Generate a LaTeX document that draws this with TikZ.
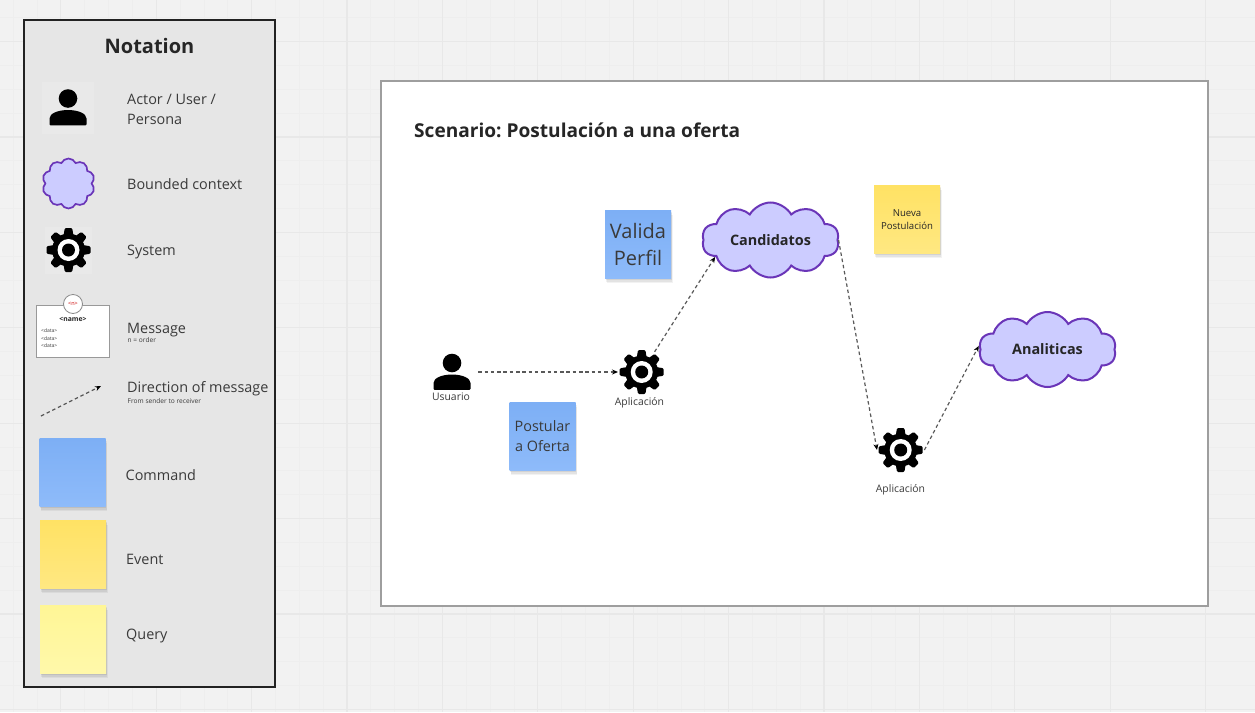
\documentclass[tikz,border=0pt]{standalone}
\usepackage{fontspec}
\setmainfont{Open Sans}
\frenchspacing
\usetikzlibrary{shapes.symbols,shadows,arrows.meta}
\definecolor{gridbg}{HTML}{F2F2F2}
\definecolor{gridminor}{HTML}{EEEEEE}
\definecolor{gridmajor}{HTML}{E8E8E8}
\definecolor{inktext}{HTML}{3A3A3A}
\definecolor{cloudfill}{HTML}{CCCCFF}
\definecolor{cloudline}{HTML}{6A35B8}
\tikzset{
  x=1pt,y=-1pt,
  label/.style={anchor=mid west,inner sep=0pt,text=inktext,font=\fontsize{14.4}{17}\selectfont},
  sublabel/.style={anchor=mid west,inner sep=0pt,text=inktext,font=\fontsize{6.6}{8}\selectfont},
  iconname/.style={inner sep=0pt,yshift=-1pt,text=inktext,font=\fontsize{10.4}{12}\selectfont},
  sticky/.style={minimum width=66pt,minimum height=68.5pt,inner sep=0pt,align=center,text=inktext,
    general shadow={shadow xshift=1.5pt,shadow yshift=-4.5pt,opacity=.05,fill=black},
    general shadow={shadow xshift=1pt,shadow yshift=-3pt,opacity=.06,fill=black},
    general shadow={shadow xshift=.5pt,shadow yshift=-1.5pt,opacity=.07,fill=black}},
  command/.style={sticky,top color={rgb,255:red,125;green,175;blue,245},bottom color={rgb,255:red,142;green,187;blue,250}},
  event/.style={sticky,top color={rgb,255:red,255;green,226;blue,100},bottom color={rgb,255:red,255;green,232;blue,130}},
  query/.style={sticky,top color={rgb,255:red,255;green,246;blue,150},bottom color={rgb,255:red,255;green,248;blue,170}},
  context/.style={shape=cloud,cloud puffs=10,cloud puff arc=120,cloud ignores aspect,draw=cloudline,line width=2pt,fill=cloudfill,
    inner sep=0pt,minimum width=137pt,minimum height=75pt,text=black!85,font=\bfseries\fontsize{14.4}{17}\selectfont},
  iconbg/.style={inner sep=0pt,minimum size=#1,fill=white,fill opacity=.15},
  flow/.style={draw=black!65,line width=1.2pt,dash pattern=on 3.5pt off 2.8pt,-{Stealth[length=6pt,width=5pt,black]}},
  gearicon/.pic={
    \foreach \a in {0,45,...,315}{
      \fill[black,rotate=\a,rounded corners=1.2pt] (-5.2,-13) -- (-3.7,-22) -- (3.7,-22) -- (5.2,-13) -- cycle;
    }
    \fill[black] (0,0) circle[radius=16.5];
    \fill[white] (0,0) circle[radius=11];
    \fill[black] (0,0) circle[radius=6.5];
  },
  personicon/.pic={
    \fill[black] (0,-9) circle[radius=9.3];
    \fill[black,rounded corners=1pt] (-18.5,17.8) -- (-18.5,12) .. controls (-18.5,6) and (-10,2.6) .. (0,2.6)
      .. controls (10,2.6) and (18.5,6) .. (18.5,12) -- (18.5,17.8) -- cycle;
  },
}
\begin{document}
\begin{tikzpicture}
\useasboundingbox (0,0) rectangle (1255,712);
\fill[gridbg] (0,0) rectangle (1255,712);
\foreach \k in {-11,...,41}{
  \draw[gridminor,line width=.8pt] ({60.8-23.85+23.85*\k},0) -- ++(0,712);
}
\foreach \k in {-1,...,30}{
  \draw[gridminor,line width=.8pt] (0,{41.5-23.85+23.85*\k}) -- ++(1255,0);
}
\foreach \k in {0,...,12}{
  \draw[gridmajor,line width=1.2pt] ({60.8+95.4*\k},0) -- ++(0,712);
}
\foreach \k in {0,...,7}{
  \draw[gridmajor,line width=1.2pt] (0,{41.5+95.4*\k}) -- ++(1255,0);
}

% Notation panel
\node[draw={rgb,255:red,34;green,34;blue,34},line width=2pt,fill={rgb,255:red,230;green,230;blue,230},minimum width=251pt,minimum height=667pt,inner sep=0pt] (notationpanel) at (149.5,353.5) {};
\node[inner sep=0pt,text=black!85,font=\bfseries\fontsize{20}{24}\selectfont] (notationtitle) at (149.5,46) {Notation};

\node[iconbg=52pt] (legendperson) at (68,107.5) {};
\pic at (68,107.5) {personicon};
\node[label,align=left] (lperson) at (127,122) {Actor / User /\\[3pt]Persona};

\node[context,cloud puffs=10,cloud puff arc=130,minimum width=52.5pt,minimum height=50pt,line width=1.7pt] (legendcloud) at (68.5,183.5) {};
\node[label] (lcontext) at (127,186.5) {Bounded context};

\node[iconbg=47pt] (legendgear) at (68.5,250) {};
\pic at (68.5,250) {gearicon};
\node[label] (lsystem) at (127,253) {System};

\node[draw=black!40,line width=1pt,fill=white,minimum width=73pt,minimum height=52pt,inner sep=0pt] (legendmsg) at (73.2,331.5) {};
\node[circle,draw=black!45,line width=.8pt,fill=white,minimum size=19pt,inner sep=0pt,text=red!80!black,font=\fontsize{5.5}{6}\selectfont] (legendn) at (73,304) {<n>};
\node[inner sep=0pt,text=black!85,font=\bfseries\fontsize{6.8}{8}\selectfont] (legendname) at (73,319) {<name>};
\node[inner sep=0pt,anchor=mid west,text=inktext,font=\fontsize{5}{6}\selectfont] (legendd1) at (41,330) {<data>};
\node[inner sep=0pt,anchor=mid west,text=inktext,font=\fontsize{5}{6}\selectfont] (legendd2) at (41,337.5) {<data>};
\node[inner sep=0pt,anchor=mid west,text=inktext,font=\fontsize{5}{6}\selectfont] (legendd3) at (41,345) {<data>};
\node[label] (lmessage) at (127,331) {Message};
\node[sublabel] (lorder) at (127.5,340) {n = order};

\coordinate (dirfrom) at (41,416);
\coordinate (dirto) at (101,386);
\draw[flow] (dirfrom) -- (dirto);
\node[label] (ldirection) at (127,390) {Direction of message};
\node[sublabel] (lsender) at (127.5,400.5) {From sender to receiver};

\node[command] (legendcommand) at (72.5,472.5) {};
\node[label] (lcommand) at (125.5,477.5) {Command};
\node[event] (legendevent) at (73,554.5) {};
\node[label] (levent) at (126,562) {Event};
\node[query] (legendquery) at (73,639.5) {};
\node[label] (lquery) at (126,637) {Query};

% Scenario panel
\node[draw=black!38,line width=1.6pt,fill=white,minimum width=827pt,minimum height=525pt,inner sep=0pt] (scenario) at (794.5,343.5) {};
\node[anchor=mid west,inner sep=0pt,yshift=-5pt,text=black!85,font=\bfseries\fontsize{19.1}{23}\selectfont] (scenariotitle) at (414,130) {Scenario: Postulación a una oferta};

\node[command,font=\fontsize{20}{26.5}\selectfont] (valida) at (638,244.5) {Valida\\Perfil};
\node[command,font=\fontsize{14.4}{20}\selectfont] (postular) at (542.5,436.5) {Postular\\a Oferta};
\node[event,text=black!85,font=\fontsize{9.6}{13}\selectfont] (nueva) at (907,219.5) {Nueva\\Postulación};

\node[iconbg=52pt] (usuario) at (452,372) {};
\pic at (452,372) {personicon};
\node[iconname] (usuariolabel) at (451,396) {Usuario};

\node[iconbg=47pt] (aplicacion) at (641.7,372) {};
\pic at (641.7,372) {gearicon};
\node[iconname] (aplicacionlabel) at (639.5,401.5) {Aplicación};

\node[iconbg=47pt] (aplicacionb) at (900.7,450) {};
\pic at (900.7,450) {gearicon};
\node[iconname] (aplicacionblabel) at (900.5,488.5) {Aplicación};

\node[context] (candidatos) at (770.5,240) {Candidatos};
\node[context] (analiticas) at (1047.5,349.5) {Analiticas};

\draw[flow] (usuario.east) -- (aplicacion.west);
\draw[flow,shorten <=24pt] (aplicacion.center) -- (candidatos.197);
\draw[flow] (candidatos.east) -- (aplicacionb.west);
\draw[flow] (aplicacionb.east) -- (analiticas.177);
\end{tikzpicture}
\end{document}
